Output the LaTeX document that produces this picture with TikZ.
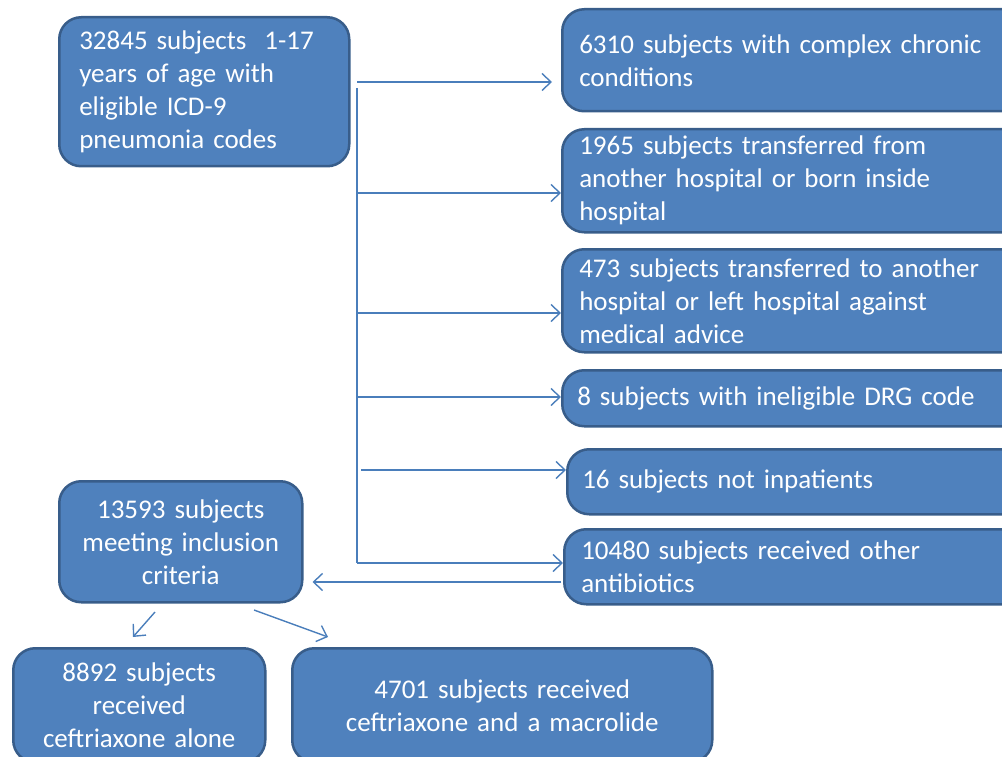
\documentclass[tikz,border=0pt]{standalone}
\usepackage{fontspec}
\setmainfont{Carlito}
\usetikzlibrary{arrows.meta}

\definecolor{boxfill}{HTML}{4F81BD}
\definecolor{boxline}{HTML}{385D8A}
\definecolor{arrowline}{HTML}{4A7EBB}

\tikzset{
  stepbox/.style={draw=boxline, fill=boxfill, line width=2.5pt, rounded corners=22pt,
    text=white, font=\fontsize{27}{33}\selectfont, anchor=north west},
  flow/.style={draw=arrowline, line width=1.4pt, -{Straight Barb[length=9pt,width=17pt,line width=1.4pt]}}
}

\begin{document}
\begin{tikzpicture}[x=1pt, y=-1pt]
\useasboundingbox (0,0) rectangle (1002,757);

% Caixa inicial
\node (start) [stepbox, minimum width=290pt, minimum height=149pt, inner xsep=20pt, text width=250pt, align=left] at (58,16)
  {32845 subjects\ \ 1-17\\ years of age with\\ eligible ICD-9\\ pneumonia codes};

% Exclusoes
\node (ccc) [stepbox, minimum width=450pt, minimum height=102pt, inner xsep=17pt, text width=440pt, align=left] at (561,8)
  {6310 subjects with complex chronic\\ conditions};
\node (transin) [stepbox, minimum width=450pt, minimum height=103pt, inner xsep=17pt, text width=440pt, align=left] at (561,128)
  {1965 subjects transferred from\\ another hospital or born inside\\ hospital};
\node (transout) [stepbox, minimum width=450pt, minimum height=103pt, inner xsep=17pt, text width=440pt, align=left] at (561,248)
  {473 subjects transferred to another\\ hospital or left hospital against\\ medical advice};
\node (drg) [stepbox, minimum width=450pt, minimum height=56pt, inner xsep=15pt, text width=440pt, align=left] at (561,369)
  {8 subjects with ineligible DRG code};
\node (inpat) [stepbox, minimum width=445pt, minimum height=65pt, inner xsep=15pt, text width=440pt, align=left] at (566,448)
  {16 subjects not inpatients};
\node (other) [stepbox, minimum width=448pt, minimum height=75pt, inner xsep=17pt, text width=440pt, align=left] at (563,528)
  {10480 subjects received other\\ antibiotics};

% Caixa de inclusao
\node (incl) [stepbox, minimum width=243pt, minimum height=121pt, text width=225pt, align=center] at (58,480)
  {13593 subjects\\ meeting inclusion\\ criteria};

% Grupos de tratamento
\node (alone) [stepbox, minimum width=252pt, minimum height=114pt, text width=236pt, align=center] at (12,647)
  {8892 subjects\\ received\\ ceftriaxone alone};
\node (macro) [stepbox, minimum width=420pt, minimum height=114pt, text width=400pt, align=center] at (291,647)
  {4701 subjects received\\ ceftriaxone and a macrolide};

% Tronco vertical
\coordinate (top) at (357,82);
\coordinate (trunktop) at (357,88);
\coordinate (trunkbot) at (357,563);
\draw[draw=arrowline, line width=1.4pt] (trunktop) -- (trunkbot);

% Setas para as exclusoes
\draw[flow, shorten >=9pt] (top) -- (top -| ccc.west);
\coordinate (b2) at (357,193);
\draw[flow] (b2) -- (b2 -| transin.west);
\coordinate (b3) at (357,313);
\draw[flow] (b3) -- (b3 -| transout.west);
\coordinate (b4) at (357,397);
\draw[flow] (b4) -- (b4 -| drg.west);
\coordinate (b5) at (361,470);
\draw[flow] (b5) -- (b5 -| inpat.west);
\draw[flow] (trunkbot) -- (trunkbot -| other.west);

% Seta de volta para inclusao
\coordinate (back) at (561,582);
\draw[flow, shorten >=9pt] (back) -- (back -| incl.east);

% Setas para os grupos
\coordinate (l1) at (155,612);
\coordinate (l2) at (133,637);
\draw[flow] (l1) -- (l2);
\coordinate (r1) at (254,610);
\coordinate (r2) at (328,637);
\draw[flow] (r1) -- (r2);

\end{tikzpicture}
\end{document}
